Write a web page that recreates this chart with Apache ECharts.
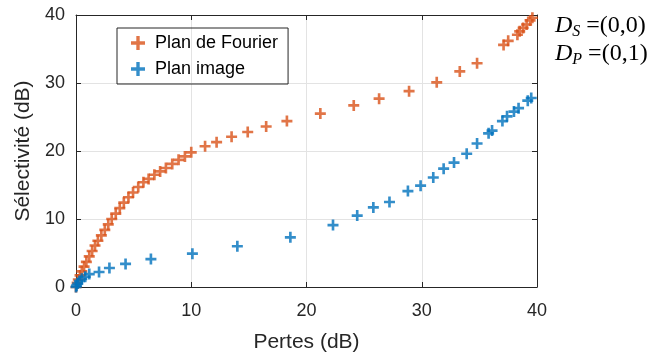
<!DOCTYPE html>
<html><head><meta charset="utf-8">
<script src="https://cdn.jsdelivr.net/npm/echarts@6/dist/echarts.min.js"></script>
<style>html,body{margin:0;padding:0;background:#fff}#c{width:654px;height:358px}</style>
</head><body><div id="c"></div>
<script>
const xTicks = [0, 10, 20, 30, 40];
const yTicks = [0, 10, 20, 30, 40];
const seriesNames = ['Plan de Fourier', 'Plan image'];
const fourierX = [0, 0.1, 0.2, 0.35, 0.5, 0.7, 0.9, 1.15, 1.4, 1.65, 1.9, 2.2, 2.5, 2.8, 3.1, 3.45, 3.8, 4.15, 4.55, 4.95, 5.4, 5.85, 6.3, 6.8, 7.3, 7.8, 8.35, 8.9, 9.45, 10.0,
  11.2, 12.2, 13.5, 14.9, 16.5, 18.3, 21.2, 24.1, 26.3, 28.9, 31.3, 33.3, 34.8, 37.1, 37.5, 38.3, 38.5, 38.8, 39.1, 39.4, 39.6];
const fourierY = [0, 0.6, 1.1, 1.7, 2.3, 3.0, 3.7, 4.5, 5.3, 6.1, 6.8, 7.6, 8.4, 9.2, 10.0, 10.8, 11.6, 12.4, 13.2, 13.9, 14.7, 15.4, 15.9, 16.5, 17.0, 17.5, 18.1, 18.7, 19.2, 19.8,
  20.7, 21.3, 22.1, 22.8, 23.6, 24.4, 25.5, 26.7, 27.7, 28.8, 30.1, 31.7, 32.9, 35.6, 36.2, 37.1, 37.6, 38.1, 38.6, 39.2, 39.6];
const imageX = [0, 0.05, 0.15, 0.3, 0.5, 0.8, 1.15, 2.0, 2.9, 4.3, 6.5, 10.1, 14.0, 18.6, 22.3, 24.4, 25.8, 27.2, 28.8, 29.9, 31.0, 31.9, 32.8, 33.9, 34.8, 35.8, 36.1, 37.0, 37.4, 38.0, 38.4, 39.2, 39.5];
const imageY = [0, 0.2, 0.5, 0.9, 1.2, 1.5, 1.9, 2.2, 2.8, 3.4, 4.1, 4.9, 6.0, 7.3, 9.1, 10.5, 11.7, 12.5, 14.1, 14.9, 16.1, 17.4, 18.3, 19.6, 21.1, 22.6, 23.0, 24.4, 25.1, 25.8, 26.3, 27.4, 27.8];
const colors = ['#D95319', '#0072BD'];

const plus = 'path://M3.8,0 L6.2,0 L6.2,3.8 L10,3.8 L10,6.2 L6.2,6.2 L6.2,10 L3.8,10 L3.8,6.2 L0,6.2 L0,3.8 L3.8,3.8 Z';
const pair = (xs, ys) => xs.map((x, i) => [x, ys[i]]);
const axisCol = '#262626';
const font = 'Liberation Sans, Arial, sans-serif';
const serif = 'Liberation Serif, Times New Roman, serif';

const baseAxis = (extra) => Object.assign({
  type: 'value', min: 0, max: 40, interval: 10,
  axisLine: { show: true, onZero: false, lineStyle: { color: axisCol, width: 1 } },
  axisTick: { show: true, inside: true, length: 5, lineStyle: { color: axisCol } },
  splitLine: { show: false },
  axisLabel: { show: false }
}, extra);

const annot = (sub, val) => ({
  text: '{d|D}{s|' + sub + '}{t| =' + val + '}',
  rich: {
    d: { fontFamily: serif, fontStyle: 'italic', fontSize: 24, fill: '#000' },
    s: { fontFamily: serif, fontStyle: 'italic', fontSize: 16, fill: '#000', padding: [12, 0, 0, 0] },
    t: { fontFamily: serif, fontSize: 24, fill: '#000' }
  }
});

const chart = echarts.init(document.getElementById('c'), null, { renderer: 'canvas' });
chart.setOption({
  animation: false,
  backgroundColor: '#fff',
  grid: { left: 76, right: 117, top: 15, bottom: 70, containLabel: false },
  legend: {
    orient: 'vertical', left: 117, top: 28,
    data: seriesNames,
    borderColor: axisCol, borderWidth: 1, borderRadius: 0,
    padding: [6, 10, 6, 14], itemGap: 8, itemWidth: 24, itemHeight: 14,
    symbolKeepAspect: true,
    textStyle: { fontSize: 18, fontFamily: font, color: '#000' }
  },
  xAxis: [
    baseAxis({
      position: 'bottom',
      name: 'Pertes (dB)', nameLocation: 'middle', nameGap: 45,
      nameTextStyle: { fontSize: 21, fontFamily: font, color: axisCol },
      axisLabel: { show: true, fontSize: 18, fontFamily: font, color: axisCol, margin: 15,
        formatter: v => xTicks.includes(v) ? String(v) : '' },
      splitLine: { show: true, lineStyle: { color: '#e3e3e3', width: 1 } }
    }),
    baseAxis({ position: 'top' })
  ],
  yAxis: [
    baseAxis({
      position: 'left',
      name: 'Sélectivité (dB)', nameLocation: 'middle', nameGap: 38,
      nameTextStyle: { fontSize: 21, fontFamily: font, color: axisCol },
      axisLabel: { show: true, fontSize: 18, fontFamily: font, color: axisCol, margin: 11,
        formatter: v => yTicks.includes(v) ? String(v) : '' },
      splitLine: { show: true, lineStyle: { color: '#e3e3e3', width: 1 } }
    }),
    baseAxis({ position: 'right' })
  ],
  series: [
    { name: seriesNames[0], type: 'scatter', symbol: plus, symbolSize: 11,
      itemStyle: { color: colors[0] }, data: pair(fourierX, fourierY), z: 3 },
    { name: seriesNames[1], type: 'scatter', symbol: plus, symbolSize: 11,
      itemStyle: { color: colors[1] }, data: pair(imageX, imageY), z: 4 }
  ],
  graphic: [
    { type: 'text', left: 555, top: 14, style: annot('S', '(0,0)') },
    { type: 'text', left: 555, top: 42, style: annot('P', '(0,1)') }
  ]
});
</script>
</body></html>
